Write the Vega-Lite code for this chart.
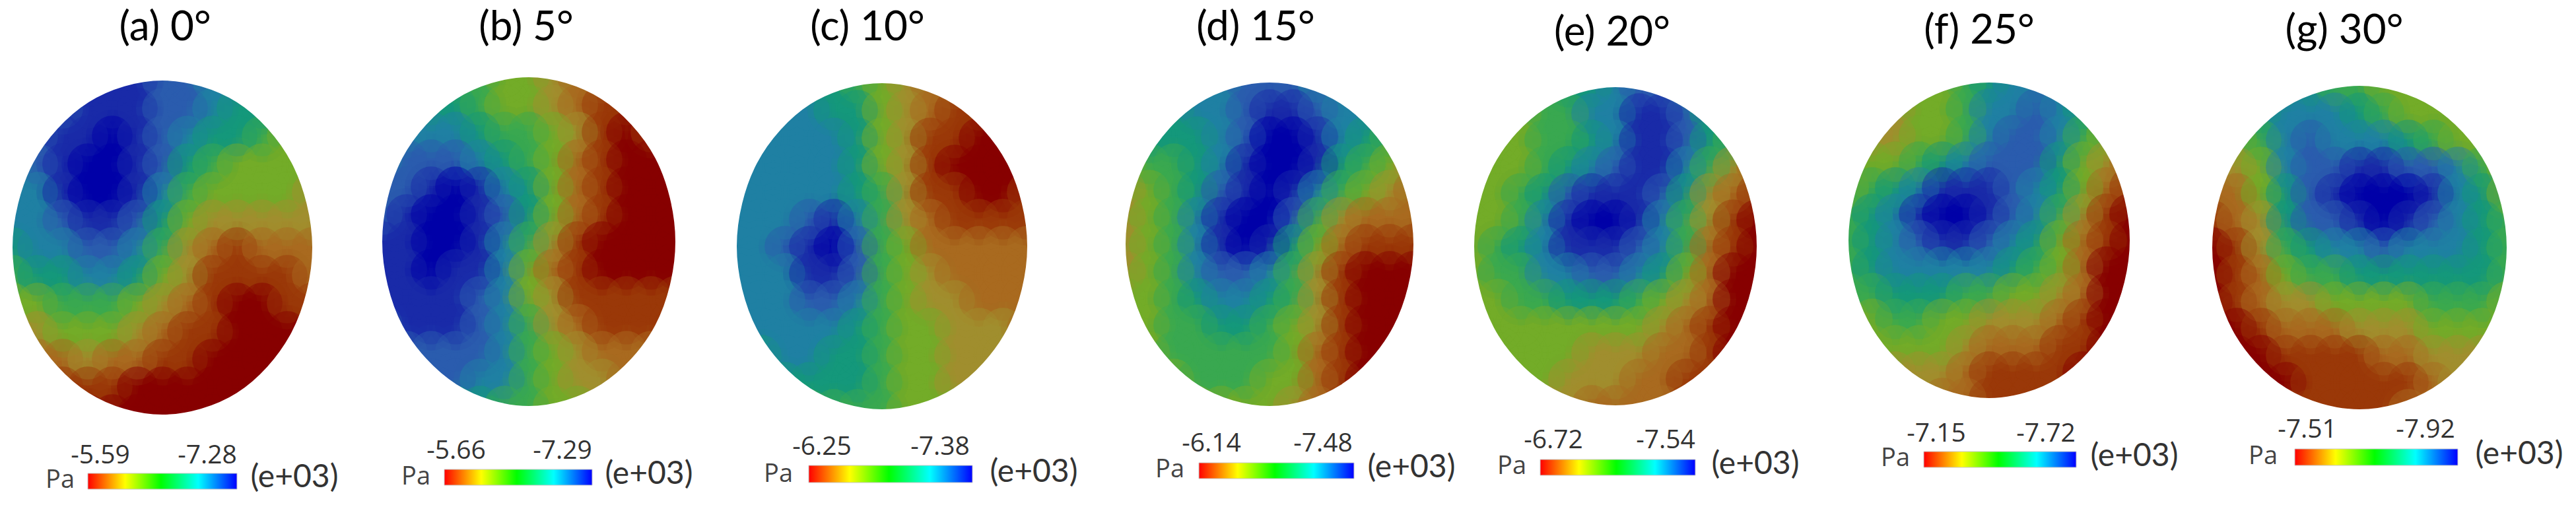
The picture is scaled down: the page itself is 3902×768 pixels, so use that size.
{"$schema":"https://vega.github.io/schema/vega-lite/v6.json","width":3902,"height":768,"padding":0,"autosize":{"type":"none"},"background":"white","config":{"view":{"stroke":null}},
"datasets":{"cells":[
{"x":133,"y":122,"v":1},{"x":170,"y":122,"v":1},{"x":208,"y":122,"v":1},{"x":246,"y":122,"v":2},{"x":284,"y":122,"v":2},{"x":322,"y":122,"v":3},{"x":359,"y":122,"v":3},
{"x":95,"y":164,"v":2},{"x":133,"y":164,"v":1},{"x":170,"y":164,"v":1},{"x":208,"y":164,"v":1},{"x":246,"y":164,"v":2},{"x":284,"y":164,"v":2},{"x":322,"y":164,"v":3},{"x":359,"y":164,"v":4},{"x":397,"y":164,"v":4},
{"x":57,"y":206,"v":2},{"x":95,"y":206,"v":1},{"x":133,"y":206,"v":1},{"x":170,"y":206,"v":0},{"x":208,"y":206,"v":1},{"x":246,"y":206,"v":2},{"x":284,"y":206,"v":3},{"x":322,"y":206,"v":4},{"x":359,"y":206,"v":4},{"x":397,"y":206,"v":5},{"x":435,"y":206,"v":6},
{"x":19,"y":248,"v":3},{"x":57,"y":248,"v":2},{"x":95,"y":248,"v":1},{"x":133,"y":248,"v":0},{"x":170,"y":248,"v":0},{"x":208,"y":248,"v":1},{"x":246,"y":248,"v":2},{"x":284,"y":248,"v":4},{"x":322,"y":248,"v":5},{"x":359,"y":248,"v":6},{"x":397,"y":248,"v":6},{"x":435,"y":248,"v":6},{"x":473,"y":248,"v":6},
{"x":19,"y":291,"v":3},{"x":57,"y":291,"v":3},{"x":95,"y":291,"v":1},{"x":133,"y":291,"v":0},{"x":170,"y":291,"v":0},{"x":208,"y":291,"v":1},{"x":246,"y":291,"v":3},{"x":284,"y":291,"v":5},{"x":322,"y":291,"v":6},{"x":359,"y":291,"v":6},{"x":397,"y":291,"v":6},{"x":435,"y":291,"v":6},{"x":473,"y":291,"v":7},
{"x":19,"y":333,"v":3},{"x":57,"y":333,"v":3},{"x":95,"y":333,"v":2},{"x":133,"y":333,"v":1},{"x":170,"y":333,"v":1},{"x":208,"y":333,"v":2},{"x":246,"y":333,"v":4},{"x":284,"y":333,"v":6},{"x":322,"y":333,"v":7},{"x":359,"y":333,"v":7},{"x":397,"y":333,"v":7},{"x":435,"y":333,"v":7},{"x":473,"y":333,"v":7},
{"x":19,"y":375,"v":4},{"x":57,"y":375,"v":3},{"x":95,"y":375,"v":3},{"x":133,"y":375,"v":2},{"x":170,"y":375,"v":2},{"x":208,"y":375,"v":3},{"x":246,"y":375,"v":5},{"x":284,"y":375,"v":7},{"x":322,"y":375,"v":8},{"x":359,"y":375,"v":9},{"x":397,"y":375,"v":8},{"x":435,"y":375,"v":8},{"x":473,"y":375,"v":8},
{"x":19,"y":417,"v":5},{"x":57,"y":417,"v":4},{"x":95,"y":417,"v":4},{"x":133,"y":417,"v":3},{"x":170,"y":417,"v":3},{"x":208,"y":417,"v":4},{"x":246,"y":417,"v":6},{"x":284,"y":417,"v":7},{"x":322,"y":417,"v":9},{"x":359,"y":417,"v":9},{"x":397,"y":417,"v":9},{"x":435,"y":417,"v":9},{"x":473,"y":417,"v":8},
{"x":19,"y":459,"v":6},{"x":57,"y":459,"v":6},{"x":95,"y":459,"v":5},{"x":133,"y":459,"v":5},{"x":170,"y":459,"v":5},{"x":208,"y":459,"v":6},{"x":246,"y":459,"v":7},{"x":284,"y":459,"v":8},{"x":322,"y":459,"v":9},{"x":359,"y":459,"v":10},{"x":397,"y":459,"v":10},{"x":435,"y":459,"v":9},{"x":473,"y":459,"v":9},
{"x":19,"y":502,"v":7},{"x":57,"y":502,"v":7},{"x":95,"y":502,"v":6},{"x":133,"y":502,"v":6},{"x":170,"y":502,"v":6},{"x":208,"y":502,"v":7},{"x":246,"y":502,"v":8},{"x":284,"y":502,"v":9},{"x":322,"y":502,"v":9},{"x":359,"y":502,"v":10},{"x":397,"y":502,"v":10},{"x":435,"y":502,"v":10},{"x":473,"y":502,"v":10},
{"x":57,"y":544,"v":8},{"x":95,"y":544,"v":8},{"x":133,"y":544,"v":7},{"x":170,"y":544,"v":8},{"x":208,"y":544,"v":8},{"x":246,"y":544,"v":9},{"x":284,"y":544,"v":9},{"x":322,"y":544,"v":10},{"x":359,"y":544,"v":10},{"x":397,"y":544,"v":10},{"x":435,"y":544,"v":10},
{"x":95,"y":586,"v":9},{"x":133,"y":586,"v":9},{"x":170,"y":586,"v":9},{"x":208,"y":586,"v":10},{"x":246,"y":586,"v":10},{"x":284,"y":586,"v":10},{"x":322,"y":586,"v":10},{"x":359,"y":586,"v":10},{"x":397,"y":586,"v":10},
{"x":133,"y":628,"v":10},{"x":170,"y":628,"v":10},{"x":208,"y":628,"v":10},{"x":246,"y":628,"v":10},{"x":284,"y":628,"v":10},{"x":322,"y":628,"v":10},{"x":359,"y":628,"v":10},

{"x":690,"y":117,"v":5},{"x":727,"y":117,"v":5},{"x":764,"y":117,"v":6},{"x":801,"y":117,"v":6},{"x":838,"y":117,"v":7},{"x":875,"y":117,"v":8},{"x":912,"y":117,"v":8},
{"x":653,"y":159,"v":4},{"x":690,"y":159,"v":4},{"x":727,"y":159,"v":5},{"x":764,"y":159,"v":6},{"x":801,"y":159,"v":6},{"x":838,"y":159,"v":7},{"x":875,"y":159,"v":8},{"x":912,"y":159,"v":9},{"x":949,"y":159,"v":9},
{"x":616,"y":200,"v":3},{"x":653,"y":200,"v":3},{"x":690,"y":200,"v":3},{"x":727,"y":200,"v":4},{"x":764,"y":200,"v":5},{"x":801,"y":200,"v":5},{"x":838,"y":200,"v":6},{"x":875,"y":200,"v":7},{"x":912,"y":200,"v":9},{"x":949,"y":200,"v":10},{"x":986,"y":200,"v":9},
{"x":579,"y":242,"v":3},{"x":616,"y":242,"v":2},{"x":653,"y":242,"v":2},{"x":690,"y":242,"v":2},{"x":727,"y":242,"v":3},{"x":764,"y":242,"v":4},{"x":801,"y":242,"v":5},{"x":838,"y":242,"v":6},{"x":875,"y":242,"v":8},{"x":912,"y":242,"v":9},{"x":949,"y":242,"v":10},{"x":986,"y":242,"v":10},{"x":1023,"y":242,"v":10},
{"x":579,"y":283,"v":2},{"x":616,"y":283,"v":2},{"x":653,"y":283,"v":1},{"x":690,"y":283,"v":0},{"x":727,"y":283,"v":1},{"x":764,"y":283,"v":3},{"x":801,"y":283,"v":4},{"x":838,"y":283,"v":6},{"x":875,"y":283,"v":8},{"x":912,"y":283,"v":9},{"x":949,"y":283,"v":10},{"x":986,"y":283,"v":10},{"x":1023,"y":283,"v":10},
{"x":579,"y":325,"v":2},{"x":616,"y":325,"v":1},{"x":653,"y":325,"v":0},{"x":690,"y":325,"v":0},{"x":727,"y":325,"v":1},{"x":764,"y":325,"v":2},{"x":801,"y":325,"v":4},{"x":838,"y":325,"v":6},{"x":875,"y":325,"v":8},{"x":912,"y":325,"v":9},{"x":949,"y":325,"v":10},{"x":986,"y":325,"v":10},{"x":1023,"y":325,"v":10},
{"x":579,"y":366,"v":1},{"x":616,"y":366,"v":1},{"x":653,"y":366,"v":0},{"x":690,"y":366,"v":0},{"x":727,"y":366,"v":1},{"x":764,"y":366,"v":3},{"x":801,"y":366,"v":5},{"x":838,"y":366,"v":7},{"x":875,"y":366,"v":9},{"x":912,"y":366,"v":10},{"x":949,"y":366,"v":10},{"x":986,"y":366,"v":10},{"x":1023,"y":366,"v":10},
{"x":579,"y":408,"v":1},{"x":616,"y":408,"v":1},{"x":653,"y":408,"v":0},{"x":690,"y":408,"v":1},{"x":727,"y":408,"v":1},{"x":764,"y":408,"v":3},{"x":801,"y":408,"v":6},{"x":838,"y":408,"v":8},{"x":875,"y":408,"v":9},{"x":912,"y":408,"v":10},{"x":949,"y":408,"v":10},{"x":986,"y":408,"v":10},{"x":1023,"y":408,"v":10},
{"x":579,"y":449,"v":1},{"x":616,"y":449,"v":1},{"x":653,"y":449,"v":1},{"x":690,"y":449,"v":1},{"x":727,"y":449,"v":2},{"x":764,"y":449,"v":3},{"x":801,"y":449,"v":6},{"x":838,"y":449,"v":7},{"x":875,"y":449,"v":9},{"x":912,"y":449,"v":9},{"x":949,"y":449,"v":9},{"x":986,"y":449,"v":9},{"x":1023,"y":449,"v":9},
{"x":579,"y":491,"v":2},{"x":616,"y":491,"v":1},{"x":653,"y":491,"v":1},{"x":690,"y":491,"v":1},{"x":727,"y":491,"v":2},{"x":764,"y":491,"v":3},{"x":801,"y":491,"v":5},{"x":838,"y":491,"v":7},{"x":875,"y":491,"v":8},{"x":912,"y":491,"v":9},{"x":949,"y":491,"v":9},{"x":986,"y":491,"v":9},{"x":1023,"y":491,"v":9},
{"x":616,"y":532,"v":2},{"x":653,"y":532,"v":2},{"x":690,"y":532,"v":2},{"x":727,"y":532,"v":2},{"x":764,"y":532,"v":3},{"x":801,"y":532,"v":5},{"x":838,"y":532,"v":6},{"x":875,"y":532,"v":7},{"x":912,"y":532,"v":8},{"x":949,"y":532,"v":8},{"x":986,"y":532,"v":8},
{"x":653,"y":574,"v":2},{"x":690,"y":574,"v":2},{"x":727,"y":574,"v":3},{"x":764,"y":574,"v":3},{"x":801,"y":574,"v":5},{"x":838,"y":574,"v":6},{"x":875,"y":574,"v":7},{"x":912,"y":574,"v":7},{"x":949,"y":574,"v":8},
{"x":690,"y":615,"v":4},{"x":727,"y":615,"v":4},{"x":764,"y":615,"v":5},{"x":801,"y":615,"v":5},{"x":838,"y":615,"v":6},{"x":875,"y":615,"v":6},{"x":912,"y":615,"v":7},

{"x":1226,"y":126,"v":4},{"x":1263,"y":126,"v":4},{"x":1299,"y":126,"v":5},{"x":1336,"y":126,"v":6},{"x":1373,"y":126,"v":7},{"x":1409,"y":126,"v":8},{"x":1446,"y":126,"v":8},
{"x":1189,"y":167,"v":3},{"x":1226,"y":167,"v":3},{"x":1263,"y":167,"v":4},{"x":1299,"y":167,"v":4},{"x":1336,"y":167,"v":6},{"x":1373,"y":167,"v":7},{"x":1409,"y":167,"v":8},{"x":1446,"y":167,"v":9},{"x":1483,"y":167,"v":9},
{"x":1153,"y":209,"v":3},{"x":1189,"y":209,"v":3},{"x":1226,"y":209,"v":3},{"x":1263,"y":209,"v":3},{"x":1299,"y":209,"v":4},{"x":1336,"y":209,"v":6},{"x":1373,"y":209,"v":7},{"x":1409,"y":209,"v":9},{"x":1446,"y":209,"v":9},{"x":1483,"y":209,"v":10},{"x":1519,"y":209,"v":10},
{"x":1116,"y":250,"v":3},{"x":1153,"y":250,"v":3},{"x":1189,"y":250,"v":3},{"x":1226,"y":250,"v":3},{"x":1263,"y":250,"v":3},{"x":1299,"y":250,"v":4},{"x":1336,"y":250,"v":6},{"x":1373,"y":250,"v":7},{"x":1409,"y":250,"v":9},{"x":1446,"y":250,"v":10},{"x":1483,"y":250,"v":10},{"x":1519,"y":250,"v":10},{"x":1556,"y":250,"v":10},
{"x":1116,"y":291,"v":3},{"x":1153,"y":291,"v":3},{"x":1189,"y":291,"v":3},{"x":1226,"y":291,"v":3},{"x":1263,"y":291,"v":3},{"x":1299,"y":291,"v":4},{"x":1336,"y":291,"v":5},{"x":1373,"y":291,"v":7},{"x":1409,"y":291,"v":9},{"x":1446,"y":291,"v":9},{"x":1483,"y":291,"v":10},{"x":1519,"y":291,"v":10},{"x":1556,"y":291,"v":9},
{"x":1116,"y":332,"v":3},{"x":1153,"y":332,"v":3},{"x":1189,"y":332,"v":3},{"x":1226,"y":332,"v":2},{"x":1263,"y":332,"v":1},{"x":1299,"y":332,"v":3},{"x":1336,"y":332,"v":5},{"x":1373,"y":332,"v":7},{"x":1409,"y":332,"v":8},{"x":1446,"y":332,"v":9},{"x":1483,"y":332,"v":9},{"x":1519,"y":332,"v":9},{"x":1556,"y":332,"v":9},
{"x":1116,"y":373,"v":3},{"x":1153,"y":373,"v":3},{"x":1189,"y":373,"v":2},{"x":1226,"y":373,"v":1},{"x":1263,"y":373,"v":0},{"x":1299,"y":373,"v":2},{"x":1336,"y":373,"v":5},{"x":1373,"y":373,"v":6},{"x":1409,"y":373,"v":8},{"x":1446,"y":373,"v":8},{"x":1483,"y":373,"v":8},{"x":1519,"y":373,"v":8},{"x":1556,"y":373,"v":8},
{"x":1116,"y":414,"v":3},{"x":1153,"y":414,"v":3},{"x":1189,"y":414,"v":3},{"x":1226,"y":414,"v":1},{"x":1263,"y":414,"v":1},{"x":1299,"y":414,"v":2},{"x":1336,"y":414,"v":5},{"x":1373,"y":414,"v":6},{"x":1409,"y":414,"v":7},{"x":1446,"y":414,"v":8},{"x":1483,"y":414,"v":8},{"x":1519,"y":414,"v":8},{"x":1556,"y":414,"v":8},
{"x":1116,"y":455,"v":3},{"x":1153,"y":455,"v":3},{"x":1189,"y":455,"v":3},{"x":1226,"y":455,"v":2},{"x":1263,"y":455,"v":2},{"x":1299,"y":455,"v":3},{"x":1336,"y":455,"v":5},{"x":1373,"y":455,"v":6},{"x":1409,"y":455,"v":7},{"x":1446,"y":455,"v":7},{"x":1483,"y":455,"v":8},{"x":1519,"y":455,"v":8},{"x":1556,"y":455,"v":8},
{"x":1116,"y":497,"v":3},{"x":1153,"y":497,"v":3},{"x":1189,"y":497,"v":3},{"x":1226,"y":497,"v":3},{"x":1263,"y":497,"v":3},{"x":1299,"y":497,"v":4},{"x":1336,"y":497,"v":5},{"x":1373,"y":497,"v":6},{"x":1409,"y":497,"v":6},{"x":1446,"y":497,"v":7},{"x":1483,"y":497,"v":7},{"x":1519,"y":497,"v":7},{"x":1556,"y":497,"v":8},
{"x":1153,"y":538,"v":4},{"x":1189,"y":538,"v":3},{"x":1226,"y":538,"v":3},{"x":1263,"y":538,"v":4},{"x":1299,"y":538,"v":4},{"x":1336,"y":538,"v":5},{"x":1373,"y":538,"v":6},{"x":1409,"y":538,"v":6},{"x":1446,"y":538,"v":7},{"x":1483,"y":538,"v":7},{"x":1519,"y":538,"v":7},
{"x":1189,"y":579,"v":4},{"x":1226,"y":579,"v":4},{"x":1263,"y":579,"v":4},{"x":1299,"y":579,"v":4},{"x":1336,"y":579,"v":5},{"x":1373,"y":579,"v":6},{"x":1409,"y":579,"v":6},{"x":1446,"y":579,"v":7},{"x":1483,"y":579,"v":7},
{"x":1226,"y":620,"v":5},{"x":1263,"y":620,"v":5},{"x":1299,"y":620,"v":5},{"x":1336,"y":620,"v":5},{"x":1373,"y":620,"v":6},{"x":1409,"y":620,"v":6},{"x":1446,"y":620,"v":6},

{"x":1814,"y":125,"v":3},{"x":1850,"y":125,"v":3},{"x":1887,"y":125,"v":2},{"x":1923,"y":125,"v":2},{"x":1959,"y":125,"v":2},{"x":1996,"y":125,"v":3},{"x":2032,"y":125,"v":3},
{"x":1778,"y":166,"v":4},{"x":1814,"y":166,"v":3},{"x":1850,"y":166,"v":3},{"x":1887,"y":166,"v":2},{"x":1923,"y":166,"v":1},{"x":1959,"y":166,"v":1},{"x":1996,"y":166,"v":2},{"x":2032,"y":166,"v":3},{"x":2068,"y":166,"v":3},
{"x":1741,"y":207,"v":4},{"x":1778,"y":207,"v":4},{"x":1814,"y":207,"v":4},{"x":1850,"y":207,"v":3},{"x":1887,"y":207,"v":2},{"x":1923,"y":207,"v":0},{"x":1959,"y":207,"v":0},{"x":1996,"y":207,"v":1},{"x":2032,"y":207,"v":3},{"x":2068,"y":207,"v":4},{"x":2105,"y":207,"v":5},
{"x":1705,"y":248,"v":6},{"x":1741,"y":248,"v":5},{"x":1778,"y":248,"v":5},{"x":1814,"y":248,"v":4},{"x":1850,"y":248,"v":3},{"x":1887,"y":248,"v":1},{"x":1923,"y":248,"v":0},{"x":1959,"y":248,"v":0},{"x":1996,"y":248,"v":1},{"x":2032,"y":248,"v":4},{"x":2068,"y":248,"v":5},{"x":2105,"y":248,"v":6},{"x":2141,"y":248,"v":7},
{"x":1705,"y":288,"v":7},{"x":1741,"y":288,"v":6},{"x":1778,"y":288,"v":5},{"x":1814,"y":288,"v":4},{"x":1850,"y":288,"v":2},{"x":1887,"y":288,"v":1},{"x":1923,"y":288,"v":0},{"x":1959,"y":288,"v":1},{"x":1996,"y":288,"v":3},{"x":2032,"y":288,"v":5},{"x":2068,"y":288,"v":6},{"x":2105,"y":288,"v":7},{"x":2141,"y":288,"v":8},
{"x":1705,"y":329,"v":7},{"x":1741,"y":329,"v":6},{"x":1778,"y":329,"v":5},{"x":1814,"y":329,"v":3},{"x":1850,"y":329,"v":1},{"x":1887,"y":329,"v":0},{"x":1923,"y":329,"v":0},{"x":1959,"y":329,"v":2},{"x":1996,"y":329,"v":5},{"x":2032,"y":329,"v":7},{"x":2068,"y":329,"v":8},{"x":2105,"y":329,"v":8},{"x":2141,"y":329,"v":8},
{"x":1705,"y":370,"v":7},{"x":1741,"y":370,"v":6},{"x":1778,"y":370,"v":5},{"x":1814,"y":370,"v":3},{"x":1850,"y":370,"v":1},{"x":1887,"y":370,"v":0},{"x":1923,"y":370,"v":1},{"x":1959,"y":370,"v":4},{"x":1996,"y":370,"v":6},{"x":2032,"y":370,"v":8},{"x":2068,"y":370,"v":9},{"x":2105,"y":370,"v":9},{"x":2141,"y":370,"v":9},
{"x":1705,"y":411,"v":7},{"x":1741,"y":411,"v":6},{"x":1778,"y":411,"v":5},{"x":1814,"y":411,"v":3},{"x":1850,"y":411,"v":2},{"x":1887,"y":411,"v":2},{"x":1923,"y":411,"v":3},{"x":1959,"y":411,"v":5},{"x":1996,"y":411,"v":7},{"x":2032,"y":411,"v":9},{"x":2068,"y":411,"v":10},{"x":2105,"y":411,"v":10},{"x":2141,"y":411,"v":10},
{"x":1705,"y":452,"v":6},{"x":1741,"y":452,"v":6},{"x":1778,"y":452,"v":5},{"x":1814,"y":452,"v":4},{"x":1850,"y":452,"v":3},{"x":1887,"y":452,"v":3},{"x":1923,"y":452,"v":4},{"x":1959,"y":452,"v":5},{"x":1996,"y":452,"v":7},{"x":2032,"y":452,"v":9},{"x":2068,"y":452,"v":10},{"x":2105,"y":452,"v":10},{"x":2141,"y":452,"v":10},
{"x":1705,"y":492,"v":6},{"x":1741,"y":492,"v":6},{"x":1778,"y":492,"v":5},{"x":1814,"y":492,"v":5},{"x":1850,"y":492,"v":4},{"x":1887,"y":492,"v":4},{"x":1923,"y":492,"v":5},{"x":1959,"y":492,"v":6},{"x":1996,"y":492,"v":7},{"x":2032,"y":492,"v":9},{"x":2068,"y":492,"v":10},{"x":2105,"y":492,"v":10},{"x":2141,"y":492,"v":10},
{"x":1741,"y":533,"v":6},{"x":1778,"y":533,"v":5},{"x":1814,"y":533,"v":5},{"x":1850,"y":533,"v":5},{"x":1887,"y":533,"v":5},{"x":1923,"y":533,"v":5},{"x":1959,"y":533,"v":6},{"x":1996,"y":533,"v":8},{"x":2032,"y":533,"v":9},{"x":2068,"y":533,"v":10},{"x":2105,"y":533,"v":10},
{"x":1778,"y":574,"v":6},{"x":1814,"y":574,"v":5},{"x":1850,"y":574,"v":5},{"x":1887,"y":574,"v":5},{"x":1923,"y":574,"v":6},{"x":1959,"y":574,"v":6},{"x":1996,"y":574,"v":8},{"x":2032,"y":574,"v":9},{"x":2068,"y":574,"v":10},
{"x":1814,"y":615,"v":6},{"x":1850,"y":615,"v":6},{"x":1887,"y":615,"v":6},{"x":1923,"y":615,"v":6},{"x":1959,"y":615,"v":7},{"x":1996,"y":615,"v":8},{"x":2032,"y":615,"v":9},

{"x":2340,"y":132,"v":5},{"x":2376,"y":132,"v":4},{"x":2411,"y":132,"v":4},{"x":2447,"y":132,"v":3},{"x":2483,"y":132,"v":2},{"x":2518,"y":132,"v":2},{"x":2554,"y":132,"v":3},
{"x":2304,"y":172,"v":6},{"x":2340,"y":172,"v":5},{"x":2376,"y":172,"v":5},{"x":2411,"y":172,"v":3},{"x":2447,"y":172,"v":3},{"x":2483,"y":172,"v":1},{"x":2518,"y":172,"v":1},{"x":2554,"y":172,"v":2},{"x":2590,"y":172,"v":4},
{"x":2269,"y":212,"v":6},{"x":2304,"y":212,"v":6},{"x":2340,"y":212,"v":5},{"x":2376,"y":212,"v":5},{"x":2411,"y":212,"v":4},{"x":2447,"y":212,"v":3},{"x":2483,"y":212,"v":1},{"x":2518,"y":212,"v":1},{"x":2554,"y":212,"v":2},{"x":2590,"y":212,"v":4},{"x":2625,"y":212,"v":5},
{"x":2233,"y":252,"v":6},{"x":2269,"y":252,"v":6},{"x":2304,"y":252,"v":6},{"x":2340,"y":252,"v":5},{"x":2376,"y":252,"v":4},{"x":2411,"y":252,"v":3},{"x":2447,"y":252,"v":2},{"x":2483,"y":252,"v":1},{"x":2518,"y":252,"v":1},{"x":2554,"y":252,"v":3},{"x":2590,"y":252,"v":5},{"x":2625,"y":252,"v":7},{"x":2661,"y":252,"v":8},
{"x":2233,"y":293,"v":6},{"x":2269,"y":293,"v":6},{"x":2304,"y":293,"v":5},{"x":2340,"y":293,"v":4},{"x":2376,"y":293,"v":2},{"x":2411,"y":293,"v":1},{"x":2447,"y":293,"v":1},{"x":2483,"y":293,"v":1},{"x":2518,"y":293,"v":2},{"x":2554,"y":293,"v":4},{"x":2590,"y":293,"v":7},{"x":2625,"y":293,"v":8},{"x":2661,"y":293,"v":9},
{"x":2233,"y":333,"v":6},{"x":2269,"y":333,"v":6},{"x":2304,"y":333,"v":5},{"x":2340,"y":333,"v":3},{"x":2376,"y":333,"v":1},{"x":2411,"y":333,"v":0},{"x":2447,"y":333,"v":0},{"x":2483,"y":333,"v":1},{"x":2518,"y":333,"v":3},{"x":2554,"y":333,"v":5},{"x":2590,"y":333,"v":7},{"x":2625,"y":333,"v":9},{"x":2661,"y":333,"v":10},
{"x":2233,"y":373,"v":6},{"x":2269,"y":373,"v":5},{"x":2304,"y":373,"v":4},{"x":2340,"y":373,"v":3},{"x":2376,"y":373,"v":1},{"x":2411,"y":373,"v":1},{"x":2447,"y":373,"v":1},{"x":2483,"y":373,"v":2},{"x":2518,"y":373,"v":3},{"x":2554,"y":373,"v":5},{"x":2590,"y":373,"v":8},{"x":2625,"y":373,"v":9},{"x":2661,"y":373,"v":10},
{"x":2233,"y":413,"v":6},{"x":2269,"y":413,"v":5},{"x":2304,"y":413,"v":5},{"x":2340,"y":413,"v":3},{"x":2376,"y":413,"v":3},{"x":2411,"y":413,"v":2},{"x":2447,"y":413,"v":2},{"x":2483,"y":413,"v":3},{"x":2518,"y":413,"v":4},{"x":2554,"y":413,"v":6},{"x":2590,"y":413,"v":8},{"x":2625,"y":413,"v":10},{"x":2661,"y":413,"v":10},
{"x":2233,"y":453,"v":6},{"x":2269,"y":453,"v":6},{"x":2304,"y":453,"v":5},{"x":2340,"y":453,"v":5},{"x":2376,"y":453,"v":4},{"x":2411,"y":453,"v":4},{"x":2447,"y":453,"v":4},{"x":2483,"y":453,"v":5},{"x":2518,"y":453,"v":6},{"x":2554,"y":453,"v":7},{"x":2590,"y":453,"v":8},{"x":2625,"y":453,"v":10},{"x":2661,"y":453,"v":10},
{"x":2233,"y":494,"v":6},{"x":2269,"y":494,"v":6},{"x":2304,"y":494,"v":6},{"x":2340,"y":494,"v":6},{"x":2376,"y":494,"v":6},{"x":2411,"y":494,"v":6},{"x":2447,"y":494,"v":6},{"x":2483,"y":494,"v":6},{"x":2518,"y":494,"v":7},{"x":2554,"y":494,"v":8},{"x":2590,"y":494,"v":9},{"x":2625,"y":494,"v":10},{"x":2661,"y":494,"v":10},
{"x":2269,"y":534,"v":6},{"x":2304,"y":534,"v":6},{"x":2340,"y":534,"v":6},{"x":2376,"y":534,"v":6},{"x":2411,"y":534,"v":7},{"x":2447,"y":534,"v":7},{"x":2483,"y":534,"v":7},{"x":2518,"y":534,"v":8},{"x":2554,"y":534,"v":8},{"x":2590,"y":534,"v":9},{"x":2625,"y":534,"v":10},
{"x":2304,"y":574,"v":6},{"x":2340,"y":574,"v":6},{"x":2376,"y":574,"v":7},{"x":2411,"y":574,"v":7},{"x":2447,"y":574,"v":7},{"x":2483,"y":574,"v":8},{"x":2518,"y":574,"v":8},{"x":2554,"y":574,"v":9},{"x":2590,"y":574,"v":9},
{"x":2340,"y":614,"v":7},{"x":2376,"y":614,"v":7},{"x":2411,"y":614,"v":8},{"x":2447,"y":614,"v":8},{"x":2483,"y":614,"v":8},{"x":2518,"y":614,"v":8},{"x":2554,"y":614,"v":9},

{"x":2907,"y":125,"v":6},{"x":2942,"y":125,"v":6},{"x":2978,"y":125,"v":5},{"x":3013,"y":125,"v":4},{"x":3049,"y":125,"v":3},{"x":3084,"y":125,"v":3},{"x":3120,"y":125,"v":3},
{"x":2871,"y":165,"v":7},{"x":2907,"y":165,"v":6},{"x":2942,"y":165,"v":6},{"x":2978,"y":165,"v":5},{"x":3013,"y":165,"v":3},{"x":3049,"y":165,"v":3},{"x":3084,"y":165,"v":2},{"x":3120,"y":165,"v":3},{"x":3155,"y":165,"v":4},
{"x":2836,"y":205,"v":7},{"x":2871,"y":205,"v":7},{"x":2907,"y":205,"v":6},{"x":2942,"y":205,"v":6},{"x":2978,"y":205,"v":5},{"x":3013,"y":205,"v":3},{"x":3049,"y":205,"v":2},{"x":3084,"y":205,"v":2},{"x":3120,"y":205,"v":3},{"x":3155,"y":205,"v":5},{"x":3191,"y":205,"v":6},
{"x":2800,"y":245,"v":6},{"x":2836,"y":245,"v":6},{"x":2871,"y":245,"v":6},{"x":2907,"y":245,"v":5},{"x":2942,"y":245,"v":4},{"x":2978,"y":245,"v":3},{"x":3013,"y":245,"v":2},{"x":3049,"y":245,"v":2},{"x":3084,"y":245,"v":2},{"x":3120,"y":245,"v":4},{"x":3155,"y":245,"v":6},{"x":3191,"y":245,"v":7},{"x":3226,"y":245,"v":8},
{"x":2800,"y":284,"v":6},{"x":2836,"y":284,"v":5},{"x":2871,"y":284,"v":4},{"x":2907,"y":284,"v":3},{"x":2942,"y":284,"v":1},{"x":2978,"y":284,"v":1},{"x":3013,"y":284,"v":1},{"x":3049,"y":284,"v":2},{"x":3084,"y":284,"v":3},{"x":3120,"y":284,"v":4},{"x":3155,"y":284,"v":6},{"x":3191,"y":284,"v":8},{"x":3226,"y":284,"v":9},
{"x":2800,"y":324,"v":5},{"x":2836,"y":324,"v":4},{"x":2871,"y":324,"v":3},{"x":2907,"y":324,"v":1},{"x":2942,"y":324,"v":0},{"x":2978,"y":324,"v":0},{"x":3013,"y":324,"v":1},{"x":3049,"y":324,"v":2},{"x":3084,"y":324,"v":3},{"x":3120,"y":324,"v":5},{"x":3155,"y":324,"v":7},{"x":3191,"y":324,"v":9},{"x":3226,"y":324,"v":10},
{"x":2800,"y":364,"v":5},{"x":2836,"y":364,"v":4},{"x":2871,"y":364,"v":3},{"x":2907,"y":364,"v":2},{"x":2942,"y":364,"v":1},{"x":2978,"y":364,"v":1},{"x":3013,"y":364,"v":2},{"x":3049,"y":364,"v":3},{"x":3084,"y":364,"v":4},{"x":3120,"y":364,"v":6},{"x":3155,"y":364,"v":8},{"x":3191,"y":364,"v":9},{"x":3226,"y":364,"v":10},
{"x":2800,"y":404,"v":5},{"x":2836,"y":404,"v":4},{"x":2871,"y":404,"v":3},{"x":2907,"y":404,"v":3},{"x":2942,"y":404,"v":3},{"x":2978,"y":404,"v":3},{"x":3013,"y":404,"v":3},{"x":3049,"y":404,"v":4},{"x":3084,"y":404,"v":5},{"x":3120,"y":404,"v":6},{"x":3155,"y":404,"v":8},{"x":3191,"y":404,"v":10},{"x":3226,"y":404,"v":10},
{"x":2800,"y":444,"v":5},{"x":2836,"y":444,"v":5},{"x":2871,"y":444,"v":4},{"x":2907,"y":444,"v":4},{"x":2942,"y":444,"v":4},{"x":2978,"y":444,"v":5},{"x":3013,"y":444,"v":5},{"x":3049,"y":444,"v":6},{"x":3084,"y":444,"v":6},{"x":3120,"y":444,"v":7},{"x":3155,"y":444,"v":8},{"x":3191,"y":444,"v":10},{"x":3226,"y":444,"v":10},
{"x":2800,"y":483,"v":6},{"x":2836,"y":483,"v":6},{"x":2871,"y":483,"v":5},{"x":2907,"y":483,"v":5},{"x":2942,"y":483,"v":6},{"x":2978,"y":483,"v":6},{"x":3013,"y":483,"v":7},{"x":3049,"y":483,"v":7},{"x":3084,"y":483,"v":7},{"x":3120,"y":483,"v":8},{"x":3155,"y":483,"v":9},{"x":3191,"y":483,"v":10},{"x":3226,"y":483,"v":10},
{"x":2836,"y":523,"v":6},{"x":2871,"y":523,"v":6},{"x":2907,"y":523,"v":6},{"x":2942,"y":523,"v":6},{"x":2978,"y":523,"v":7},{"x":3013,"y":523,"v":8},{"x":3049,"y":523,"v":8},{"x":3084,"y":523,"v":8},{"x":3120,"y":523,"v":9},{"x":3155,"y":523,"v":9},{"x":3191,"y":523,"v":10},
{"x":2871,"y":563,"v":7},{"x":2907,"y":563,"v":7},{"x":2942,"y":563,"v":7},{"x":2978,"y":563,"v":8},{"x":3013,"y":563,"v":9},{"x":3049,"y":563,"v":9},{"x":3084,"y":563,"v":9},{"x":3120,"y":563,"v":9},{"x":3155,"y":563,"v":10},
{"x":2907,"y":603,"v":7},{"x":2942,"y":603,"v":8},{"x":2978,"y":603,"v":8},{"x":3013,"y":603,"v":9},{"x":3049,"y":603,"v":9},{"x":3084,"y":603,"v":9},{"x":3120,"y":603,"v":9},

{"x":3463,"y":130,"v":4},{"x":3500,"y":130,"v":4},{"x":3537,"y":130,"v":5},{"x":3574,"y":130,"v":5},{"x":3611,"y":130,"v":6},{"x":3648,"y":130,"v":6},{"x":3686,"y":130,"v":6},
{"x":3425,"y":171,"v":4},{"x":3463,"y":171,"v":3},{"x":3500,"y":171,"v":3},{"x":3537,"y":171,"v":3},{"x":3574,"y":171,"v":4},{"x":3611,"y":171,"v":5},{"x":3648,"y":171,"v":6},{"x":3686,"y":171,"v":6},{"x":3723,"y":171,"v":6},
{"x":3388,"y":212,"v":6},{"x":3425,"y":212,"v":5},{"x":3463,"y":212,"v":3},{"x":3500,"y":212,"v":2},{"x":3537,"y":212,"v":3},{"x":3574,"y":212,"v":3},{"x":3611,"y":212,"v":3},{"x":3648,"y":212,"v":4},{"x":3686,"y":212,"v":5},{"x":3723,"y":212,"v":6},{"x":3760,"y":212,"v":6},
{"x":3351,"y":253,"v":7},{"x":3388,"y":253,"v":7},{"x":3425,"y":253,"v":6},{"x":3463,"y":253,"v":3},{"x":3500,"y":253,"v":2},{"x":3537,"y":253,"v":2},{"x":3574,"y":253,"v":1},{"x":3611,"y":253,"v":1},{"x":3648,"y":253,"v":2},{"x":3686,"y":253,"v":2},{"x":3723,"y":253,"v":3},{"x":3760,"y":253,"v":5},{"x":3797,"y":253,"v":6},
{"x":3351,"y":293,"v":8},{"x":3388,"y":293,"v":8},{"x":3425,"y":293,"v":6},{"x":3463,"y":293,"v":4},{"x":3500,"y":293,"v":2},{"x":3537,"y":293,"v":1},{"x":3574,"y":293,"v":0},{"x":3611,"y":293,"v":0},{"x":3648,"y":293,"v":0},{"x":3686,"y":293,"v":1},{"x":3723,"y":293,"v":3},{"x":3760,"y":293,"v":4},{"x":3797,"y":293,"v":6},
{"x":3351,"y":334,"v":9},{"x":3388,"y":334,"v":8},{"x":3425,"y":334,"v":7},{"x":3463,"y":334,"v":4},{"x":3500,"y":334,"v":2},{"x":3537,"y":334,"v":2},{"x":3574,"y":334,"v":1},{"x":3611,"y":334,"v":0},{"x":3648,"y":334,"v":1},{"x":3686,"y":334,"v":2},{"x":3723,"y":334,"v":3},{"x":3760,"y":334,"v":4},{"x":3797,"y":334,"v":5},
{"x":3351,"y":375,"v":10},{"x":3388,"y":375,"v":9},{"x":3425,"y":375,"v":7},{"x":3463,"y":375,"v":5},{"x":3500,"y":375,"v":4},{"x":3537,"y":375,"v":3},{"x":3574,"y":375,"v":3},{"x":3611,"y":375,"v":2},{"x":3648,"y":375,"v":3},{"x":3686,"y":375,"v":3},{"x":3723,"y":375,"v":3},{"x":3760,"y":375,"v":4},{"x":3797,"y":375,"v":5},
{"x":3351,"y":416,"v":10},{"x":3388,"y":416,"v":9},{"x":3425,"y":416,"v":8},{"x":3463,"y":416,"v":6},{"x":3500,"y":416,"v":5},{"x":3537,"y":416,"v":5},{"x":3574,"y":416,"v":4},{"x":3611,"y":416,"v":4},{"x":3648,"y":416,"v":4},{"x":3686,"y":416,"v":4},{"x":3723,"y":416,"v":4},{"x":3760,"y":416,"v":4},{"x":3797,"y":416,"v":5},
{"x":3351,"y":457,"v":10},{"x":3388,"y":457,"v":9},{"x":3425,"y":457,"v":8},{"x":3463,"y":457,"v":7},{"x":3500,"y":457,"v":7},{"x":3537,"y":457,"v":6},{"x":3574,"y":457,"v":6},{"x":3611,"y":457,"v":6},{"x":3648,"y":457,"v":6},{"x":3686,"y":457,"v":5},{"x":3723,"y":457,"v":5},{"x":3760,"y":457,"v":5},{"x":3797,"y":457,"v":6},
{"x":3351,"y":497,"v":10},{"x":3388,"y":497,"v":10},{"x":3425,"y":497,"v":9},{"x":3463,"y":497,"v":8},{"x":3500,"y":497,"v":8},{"x":3537,"y":497,"v":8},{"x":3574,"y":497,"v":7},{"x":3611,"y":497,"v":7},{"x":3648,"y":497,"v":7},{"x":3686,"y":497,"v":6},{"x":3723,"y":497,"v":6},{"x":3760,"y":497,"v":6},{"x":3797,"y":497,"v":6},
{"x":3388,"y":538,"v":10},{"x":3425,"y":538,"v":10},{"x":3463,"y":538,"v":9},{"x":3500,"y":538,"v":9},{"x":3537,"y":538,"v":9},{"x":3574,"y":538,"v":9},{"x":3611,"y":538,"v":8},{"x":3648,"y":538,"v":8},{"x":3686,"y":538,"v":7},{"x":3723,"y":538,"v":7},{"x":3760,"y":538,"v":7},
{"x":3425,"y":579,"v":10},{"x":3463,"y":579,"v":10},{"x":3500,"y":579,"v":9},{"x":3537,"y":579,"v":9},{"x":3574,"y":579,"v":9},{"x":3611,"y":579,"v":9},{"x":3648,"y":579,"v":9},{"x":3686,"y":579,"v":8},{"x":3723,"y":579,"v":7},
{"x":3463,"y":620,"v":9},{"x":3500,"y":620,"v":9},{"x":3537,"y":620,"v":9},{"x":3574,"y":620,"v":9},{"x":3611,"y":620,"v":9},{"x":3648,"y":620,"v":8},{"x":3686,"y":620,"v":8}
],
"rims":[
{"d":"a","i":0,"x":513,"y":375},{"d":"a","i":1,"x":477,"y":522},{"d":"a","i":2,"x":380,"y":629},{"d":"a","i":3,"x":246,"y":668},{"d":"a","i":4,"x":113,"y":629},{"d":"a","i":5,"x":15,"y":522},{"d":"a","i":6,"x":-21,"y":375},{"d":"a","i":7,"x":15,"y":228},{"d":"a","i":8,"x":113,"y":121},{"d":"a","i":9,"x":246,"y":82},{"d":"a","i":10,"x":380,"y":121},{"d":"a","i":11,"x":477,"y":228},
{"d":"b","i":0,"x":1063,"y":366},{"d":"b","i":1,"x":1028,"y":511},{"d":"b","i":2,"x":932,"y":616},{"d":"b","i":3,"x":801,"y":655},{"d":"b","i":4,"x":670,"y":616},{"d":"b","i":5,"x":574,"y":511},{"d":"b","i":6,"x":539,"y":366},{"d":"b","i":7,"x":574,"y":221},{"d":"b","i":8,"x":670,"y":116},{"d":"b","i":9,"x":801,"y":77},{"d":"b","i":10,"x":932,"y":116},{"d":"b","i":11,"x":1028,"y":221},
{"d":"c","i":0,"x":1596,"y":373},{"d":"c","i":1,"x":1561,"y":517},{"d":"c","i":2,"x":1466,"y":622},{"d":"c","i":3,"x":1336,"y":660},{"d":"c","i":4,"x":1206,"y":622},{"d":"c","i":5,"x":1111,"y":517},{"d":"c","i":6,"x":1076,"y":373},{"d":"c","i":7,"x":1111,"y":229},{"d":"c","i":8,"x":1206,"y":124},{"d":"c","i":9,"x":1336,"y":86},{"d":"c","i":10,"x":1466,"y":124},{"d":"c","i":11,"x":1561,"y":229},
{"d":"d","i":0,"x":2181,"y":370},{"d":"d","i":1,"x":2146,"y":513},{"d":"d","i":2,"x":2052,"y":617},{"d":"d","i":3,"x":1923,"y":655},{"d":"d","i":4,"x":1794,"y":617},{"d":"d","i":5,"x":1700,"y":513},{"d":"d","i":6,"x":1665,"y":370},{"d":"d","i":7,"x":1700,"y":227},{"d":"d","i":8,"x":1794,"y":123},{"d":"d","i":9,"x":1923,"y":85},{"d":"d","i":10,"x":2052,"y":123},{"d":"d","i":11,"x":2146,"y":227},
{"d":"e","i":0,"x":2701,"y":373},{"d":"e","i":1,"x":2667,"y":514},{"d":"e","i":2,"x":2574,"y":616},{"d":"e","i":3,"x":2447,"y":654},{"d":"e","i":4,"x":2320,"y":616},{"d":"e","i":5,"x":2227,"y":514},{"d":"e","i":6,"x":2193,"y":373},{"d":"e","i":7,"x":2227,"y":232},{"d":"e","i":8,"x":2320,"y":130},{"d":"e","i":9,"x":2447,"y":92},{"d":"e","i":10,"x":2574,"y":130},{"d":"e","i":11,"x":2667,"y":232},
{"d":"f","i":0,"x":3266,"y":364},{"d":"f","i":1,"x":3232,"y":504},{"d":"f","i":2,"x":3140,"y":606},{"d":"f","i":3,"x":3013,"y":643},{"d":"f","i":4,"x":2886,"y":606},{"d":"f","i":5,"x":2794,"y":504},{"d":"f","i":6,"x":2760,"y":364},{"d":"f","i":7,"x":2794,"y":224},{"d":"f","i":8,"x":2886,"y":122},{"d":"f","i":9,"x":3013,"y":85},{"d":"f","i":10,"x":3140,"y":122},{"d":"f","i":11,"x":3232,"y":224},
{"d":"g","i":0,"x":3837,"y":375},{"d":"g","i":1,"x":3802,"y":518},{"d":"g","i":2,"x":3706,"y":622},{"d":"g","i":3,"x":3574,"y":660},{"d":"g","i":4,"x":3442,"y":622},{"d":"g","i":5,"x":3346,"y":518},{"d":"g","i":6,"x":3311,"y":375},{"d":"g","i":7,"x":3346,"y":232},{"d":"g","i":8,"x":3442,"y":128},{"d":"g","i":9,"x":3574,"y":90},{"d":"g","i":10,"x":3706,"y":128},{"d":"g","i":11,"x":3802,"y":232}
]},
"encoding":{
"x":{"field":"x","type":"quantitative","scale":{"domain":[0,3902],"nice":false,"zero":false},"axis":null},
"y":{"field":"y","type":"quantitative","scale":{"domain":[0,768],"reverse":true,"nice":false,"zero":false},"axis":null}
},
"layer":[
{"data":{"name":"cells"},"mark":{"type":"rect","width":39,"height":44},
 "encoding":{"color":{"field":"v","type":"quantitative","legend":null,"scale":{"domain":[0,1,2,3,4,5,6,7,8,9,10],"range":["#0000a8","#1a2aa8","#2a5cae","#2080a4","#14987c","#3aa850","#74ac28","#a08e2e","#aa6a20","#9a3808","#880000"]}}}},
{"data":{"name":"cells"},"mark":{"type":"circle","size":6400,"opacity":0.35,"stroke":null},
 "encoding":{"color":{"field":"v","type":"quantitative","legend":null},"order":{"field":"x","type":"quantitative","sort":"descending"}}},
{"data":{"name":"cells"},"mark":{"type":"circle","size":6400,"opacity":0.35,"stroke":null},
 "encoding":{"color":{"field":"v","type":"quantitative","legend":null},"order":{"field":"y","type":"quantitative","sort":"descending"}}},
{"data":{"name":"cells"},"mark":{"type":"circle","size":3800,"opacity":0.35,"stroke":null},
 "encoding":{"color":{"field":"v","type":"quantitative","legend":null},"order":{"field":"x","type":"quantitative"}}},
{"data":{"name":"cells"},"mark":{"type":"circle","size":3800,"opacity":0.35,"stroke":null},
 "encoding":{"color":{"field":"v","type":"quantitative","legend":null},"order":{"field":"y","type":"quantitative"}}},
{"data":{"name":"rims"},"mark":{"type":"line","interpolate":"cardinal-closed","strokeWidth":80,"color":"white"},
 "encoding":{"detail":{"field":"d"},"order":{"field":"i","type":"quantitative"}}},
{"data":{"values":[
{"x":133,"x2":359,"y":717,"y2":741},{"x":673,"x2":897,"y":711,"y2":735},{"x":1225,"x2":1473,"y":705,"y2":731},{"x":1816,"x2":2051,"y":701,"y2":725},{"x":2333,"x2":2568,"y":696,"y2":720},{"x":2914,"x2":3145,"y":684,"y2":708},{"x":3476,"x2":3723,"y":680,"y2":705}]},
 "mark":{"type":"rect","stroke":"#c8c8c8","strokeWidth":1,"fill":{"x1":0,"x2":1,"y1":0,"y2":0,"gradient":"linear","stops":[{"offset":0,"color":"#ff0000"},{"offset":0.25,"color":"#ffff00"},{"offset":0.49,"color":"#00ff00"},{"offset":0.74,"color":"#00ffff"},{"offset":1,"color":"#0000ff"}]}},
 "encoding":{"x2":{"field":"x2"},"y2":{"field":"y2"}}},
{"data":{"values":[
{"x":250,"y":61,"t":"(a) 0°"},{"x":797,"y":61,"t":"(b) 5°"},{"x":1314,"y":61,"t":"(c) 10°"},{"x":1902,"y":61,"t":"(d) 15°"},{"x":2442,"y":69,"t":"(e) 20°"},{"x":2998,"y":66,"t":"(f) 25°"},{"x":3551,"y":66,"t":"(g) 30°"}]},
 "mark":{"type":"text","font":"Lato","fontSize":62,"color":"black","baseline":"alphabetic","align":"center"},
 "encoding":{"text":{"field":"t"}}},
{"data":{"values":[
{"x":152,"y":702,"t":"-5.59"},{"x":314,"y":702,"t":"-7.28"},{"x":691,"y":695,"t":"-5.66"},{"x":852,"y":695,"t":"-7.29"},{"x":1245,"y":689,"t":"-6.25"},{"x":1424,"y":689,"t":"-7.38"},{"x":1835,"y":684,"t":"-6.14"},{"x":2004,"y":684,"t":"-7.48"},{"x":2353,"y":679,"t":"-6.72"},{"x":2523,"y":679,"t":"-7.54"},{"x":2933,"y":669,"t":"-7.15"},{"x":3099,"y":669,"t":"-7.72"},{"x":3495,"y":663,"t":"-7.51"},{"x":3674,"y":663,"t":"-7.92"}]},
 "mark":{"type":"text","font":"Open Sans","fontSize":39,"color":"#333333","baseline":"alphabetic","align":"center"},
 "encoding":{"text":{"field":"t"}}},
{"data":{"values":[
{"x":91,"y":739,"t":"Pa"},{"x":630,"y":734,"t":"Pa"},{"x":1179,"y":730,"t":"Pa"},{"x":1772,"y":723,"t":"Pa"},{"x":2290,"y":718,"t":"Pa"},{"x":2871,"y":706,"t":"Pa"},{"x":3428,"y":703,"t":"Pa"}]},
 "mark":{"type":"text","font":"Open Sans","fontSize":38,"color":"#444444","baseline":"alphabetic","align":"center"},
 "encoding":{"text":{"field":"t"}}},
{"data":{"values":[
{"x":446,"y":738,"t":"(e+03)"},{"x":983,"y":733,"t":"(e+03)"},{"x":1566,"y":730,"t":"(e+03)"},{"x":2138,"y":723,"t":"(e+03)"},{"x":2659,"y":718,"t":"(e+03)"},{"x":3233,"y":706,"t":"(e+03)"},{"x":3816,"y":703,"t":"(e+03)"}]},
 "mark":{"type":"text","font":"Lato","fontSize":48,"color":"#333333","baseline":"alphabetic","align":"center"},
 "encoding":{"text":{"field":"t"}}}
]}
